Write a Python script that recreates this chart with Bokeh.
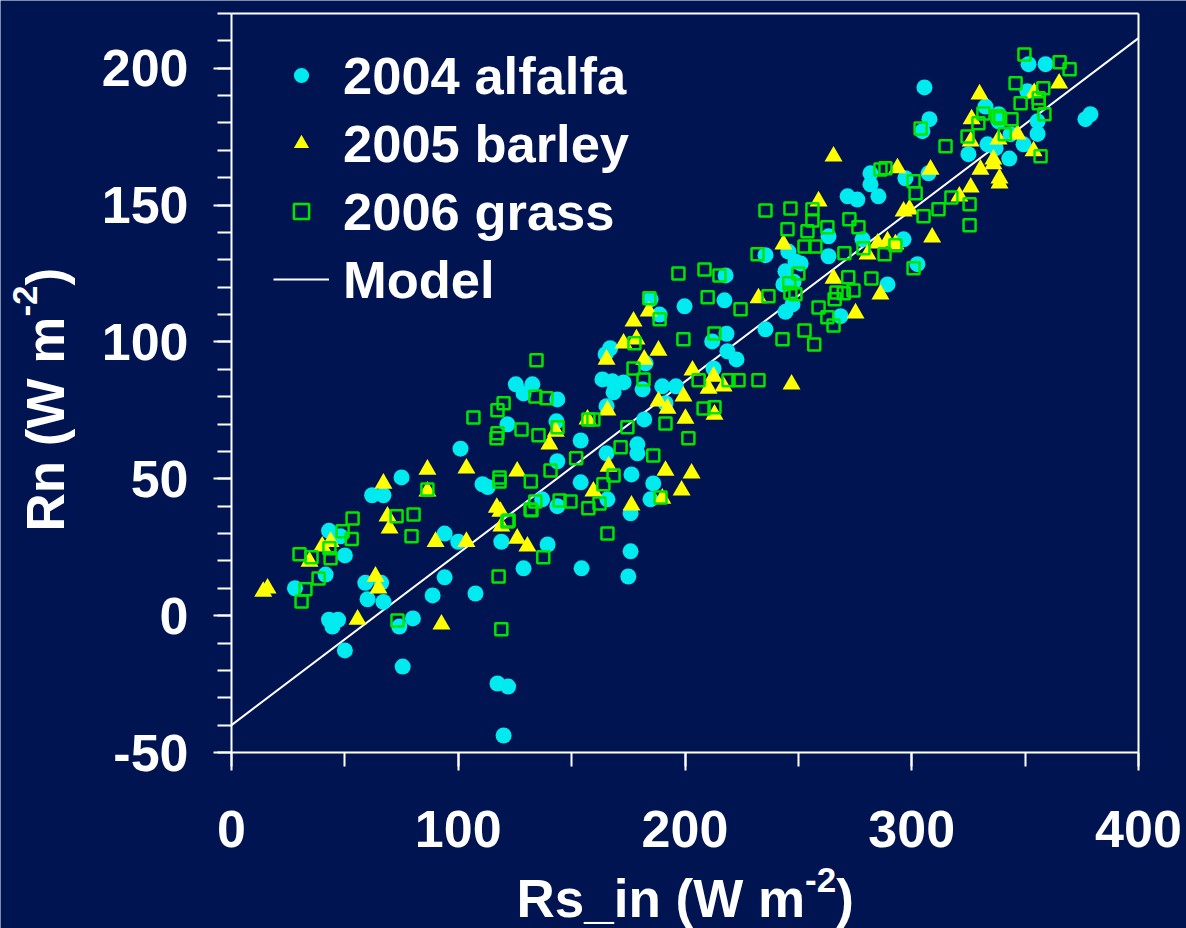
import math
from bokeh.plotting import figure
from bokeh.models import (Range1d, SingleIntervalTicker, FixedTicker, Label, Legend,
                          LegendItem, PrintfTickFormatter, LinearAxis)
from bokeh.embed import file_html
from bokeh.resources import INLINE

# ---------------- data ----------------
alfalfa = [
    (28, 10), (43, 31), (48, 29), (50, 22), (41.5, 15), (59, 12), (66, 12), (60, 6), (67, 5),
    (43, -1.5), (47, -1.5), (44.5, -4), (50, -12.7), (74, -4), (80, -1), (75.5, -18.6),
    (94, 30), (100, 27), (94, 14), (88.7, 7.4), (107.6, 8.1), (128.8, 17.3), (119, 27),
    (117.3, -24.8), (122, -25.9), (120, -43.8), (62, 44), (67, 44), (75, 50.5), (110.7, 48),
    (113, 47), (101, 61), (125.4, 84.5), (132.7, 84.5), (128.8, 81.2), (143.7, 79),
    (121.7, 69.9), (143.3, 71), (154, 64), (143.7, 56.4), (154, 48.7), (137, 42.5),
    (143.7, 40), (165.8, 42.5), (176, 37.4), (165.4, 59.3), (176.4, 51.6), (186, 48.3),
    (184.8, 42.5), (179, 62.6), (179, 59.3), (182, 71.7), (165.4, 76.5), (163.6, 86.3),
    (168, 85.6), (172.9, 85.2), (168.5, 81.6), (181.3, 82.7), (190, 83.8), (196, 83.8),
    (165, 95.5), (167, 97.7), (182.6, 92.2), (191.4, 77.6), (184.8, 115.6), (188.8, 110),
    (199.8, 113), (217.4, 115.2), (218.3, 103), (212, 100.2), (218.7, 96.6), (222.7, 93.6),
    (212.6, 90.3), (235.5, 104.6), (217.9, 124.3), (235.5, 131.7), (245.6, 133),
    (244.3, 125.8), (247.9, 122), (248.7, 129.4), (244.3, 111), (355.5, 176), (333.4, 172.2),
    (337, 170.8), (343.6, 175.9), (349.3, 172.2), (325, 168.6), (343, 167), (281.8, 161.6),
    (281.8, 157.6), (297.2, 159.8), (307.4, 161.6), (271.7, 153.2), (276, 152),
    (285.3, 153.2), (263.3, 138.6), (278.3, 137.5), (296.4, 137.5), (263.3, 131.3),
    (251, 128.7), (302.5, 128.4), (289.3, 121), (243.4, 121), (247.4, 113.7), (268.6, 109.4),
    (305.6, 193), (351.5, 201.5), (359, 201.5), (351, 191.6), (376.6, 181.4), (378.8, 183.2),
    (307.8, 181.4), (304.7, 177), (332.5, 186), (338.3, 183.2), (338.3, 180.6),
    (355.5, 180.6), (139.4, 26), (154.4, 17.3), (176, 23.5), (175, 14.3),
]

barley = [
    (14, 8.8), (15.9, 10), (34.4, 19.8), (40, 25.3), (43.7, 27), (63.5, 14.3), (64.8, 10),
    (55.6, -1.4), (67, 48.3), (68.8, 36.3), (69.7, 31.9), (86.4, 53.4), (86.4, 45.4),
    (90, 27), (103.6, 27), (92.6, -3.2), (117, 39.5), (119, 32.6), (126, 28.2), (130.5, 25.3),
    (103.6, 53.8), (126, 52.7), (118.6, 38), (140.2, 62.6), (143, 67.3), (157, 71.7),
    (165.8, 75), (166.3, 54.5), (159.6, 45.4), (176.4, 40.3), (191.4, 53), (202.9, 52),
    (198.5, 45.8), (190, 42.8), (188.3, 78.3), (192.3, 75.7), (199.3, 80.1), (200.2, 72),
    (165.4, 93.6), (172.9, 99.5), (178.6, 101), (182, 93.6), (188.3, 96.9), (177.3, 107.5),
    (184, 111.2), (203.3, 89.6), (212.6, 87.4), (210.4, 83), (217, 83.8), (213, 73.5),
    (232.4, 116), (247, 84.5), (265.5, 167.8), (258.9, 151.4), (243.4, 135.7), (280.5, 132),
    (285, 136), (289.3, 136.8), (292.8, 135.7), (265.5, 123.2), (286.2, 117.4),
    (275.2, 110.5), (293.7, 163.5), (296.4, 147.7), (299, 148.5), (309, 138.2), (308.3, 163),
    (321, 153.2), (326, 156.5), (330.3, 163), (336, 165), (338.7, 159.8), (338.7, 158),
    (353.7, 169.7), (346.6, 175.9), (338.3, 174), (326, 173.3), (329.9, 190.5),
    (326.4, 181.4), (354, 191), (365, 194.5), (336, 166.7),
]

grass = [
    (53.4, 35.5), (49, 30.8), (53, 28), (30, 22.4), (35.3, 21.3), (43.2, 24.6), (43.7, 21),
    (38.4, 13.6), (32.6, 9.6), (30.9, 5.2), (72.8, 36.3), (80.3, 37), (79.4, 29), (86.4, 46.1),
    (73.2, -1.8), (117.8, 14.3), (119, -5), (121.7, 34.4), (118.2, 49), (132, 49),
    (131.9, 38.8), (106.7, 72.4), (120, 77.6), (117.3, 75), (117.3, 66.6), (116.9, 64.8),
    (127.9, 68), (118.2, 50.5), (134.5, 93.3), (134, 80.1), (138.9, 79.4), (135.4, 65.9),
    (143.8, 68.8), (157.4, 71.7), (159.6, 71.7), (174.6, 68.8), (152, 57.5), (140.7, 53),
    (171.6, 61.5), (186, 58.5), (168.5, 51.2), (164, 48), (191.4, 70.2), (201.5, 64.8),
    (208.2, 75.7), (213, 76.1), (134, 41.7), (132.3, 38.5), (144.7, 42.1), (149.5, 41.7),
    (157.4, 39.2), (162.3, 41), (189.2, 43.2), (122.2, 34.8), (165.8, 30), (177.3, 90.3),
    (181.7, 86.3), (206, 86), (219.2, 86), (223.6, 86), (232.4, 86), (177.7, 99.5),
    (184.3, 116), (188.8, 108.3), (199.3, 101), (213, 103.1), (210, 116.3), (224.5, 111.9),
    (197.1, 125), (208.6, 126.5), (215.2, 124.3), (236.8, 116.7), (232, 132), (243, 101),
    (246, 121.4), (246.5, 118), (248.7, 117.4), (235.5, 148), (246.5, 148.8), (256.2, 148.5),
    (256.2, 144.4), (245.2, 141.2), (254, 140.4), (252.7, 134.9), (257.5, 134.9),
    (262.8, 141.9), (272.5, 144.8), (276.5, 141.9), (270.3, 132.4), (278.7, 134.2),
    (288, 132), (292.8, 135.3), (250, 125), (272, 123.6), (266.8, 118.1), (270, 117.8),
    (274.3, 118.8), (266, 115.6), (258.9, 112.6), (262.8, 109), (265.5, 106), (252.7, 104.2),
    (257, 99.1), (282.2, 123.2), (300.8, 126.9), (286.2, 163), (288.4, 163.5),
    (300.8, 158.7), (301.7, 154.3), (305.2, 145.9), (311.8, 148.5), (317.5, 152.8),
    (325.5, 150.3), (325.5, 142.6), (314.9, 171.5), (324.6, 175.1), (341, 175.9),
    (356.8, 167.8), (349.7, 205), (365.2, 202.2), (369.6, 199.6), (345.8, 194.5),
    (358, 192.7), (348, 187.2), (356, 189), (356, 187.2), (358.5, 183.2), (331.6, 183.5),
    (329.4, 179.9), (337.8, 182.5), (339, 181.7), (344, 181.4), (303.9, 178), (137.5, 21.3),
]

model_rs = [0, 400]
model_rn = [-40, 211]

series_labels = ["2004 alfalfa", "2005 barley", "2006 grass", "Model"]
x_ticks_interval = 100
y_ticks_interval = 50

alfalfa_rs, alfalfa_rn = map(list, zip(*alfalfa))
barley_rs, barley_rn = map(list, zip(*barley))
grass_rs, grass_rn = map(list, zip(*grass))

# ---------------- layout / styling ----------------
W, H = 1186, 928
X_MIN, X_MAX = 0, 400
Y_MIN, Y_MAX = -50, 220
PL, PR, PT, PB = 231, 1138, 13, 752   # plot box in canvas pixels

sxs = (PR - PL) / (X_MAX - X_MIN)
sys_ = (PB - PT) / (Y_MAX - Y_MIN)
x_rng = Range1d(X_MIN - PL / sxs, X_MAX + (W - PR) / sxs)
y_rng = Range1d(Y_MIN - (H - PB) / sys_, Y_MAX + PT / sys_)

BG = "#011452"
CYAN = "#00EBF0"
YELLOW = "#FFFF00"
GREEN = "#00E600"
FONT = "Liberation Sans"
TICK_FS = 52
LEG_FS = 52.5
FS = 53
SUP = 35
BASE_K = 0.373   # measured shift of the alphabetic baseline, per px of font size

# Liberation Sans Bold advance widths (em)
ADV = {"R": 0.722, "s": 0.556, "_": 0.556, "i": 0.278, "n": 0.611, " ": 0.278,
       "(": 0.333, "W": 0.944, "m": 0.889, "-": 0.333, "2": 0.556, ")": 0.333}


def tw(s, size):
    return sum(ADV[c] for c in s) * size


p = figure(width=W, height=H, x_range=x_rng, y_range=y_rng,
           output_backend="svg", toolbar_location=None, min_border=0)
p.background_fill_color = BG
p.border_fill_color = BG
p.outline_line_color = None
p.grid.visible = False

p.xaxis.ticker = SingleIntervalTicker(interval=x_ticks_interval, num_minor_ticks=2)
p.yaxis.ticker = SingleIntervalTicker(interval=y_ticks_interval, num_minor_ticks=5)
p.xaxis.fixed_location = Y_MIN
p.yaxis.fixed_location = X_MIN
p.xaxis.bounds = (X_MIN, X_MAX)
p.yaxis.bounds = (Y_MIN, Y_MAX)


def style_axis(ax):
    ax.axis_line_color = "white"
    ax.axis_line_width = 2
    ax.major_tick_line_color = "white"
    ax.major_tick_line_width = 2
    ax.minor_tick_line_color = "white"
    ax.minor_tick_line_width = 2
    ax.major_tick_in = 0
    ax.major_tick_out = 18
    ax.minor_tick_in = 0
    ax.minor_tick_out = 14
    ax.major_label_text_color = "white"
    ax.major_label_text_font = FONT
    ax.major_label_text_font_style = "bold"
    ax.major_label_text_font_size = f"{TICK_FS}px"


for ax in (p.xaxis[0], p.yaxis[0]):
    ax.formatter = PrintfTickFormatter(format="%d")
    style_axis(ax)
p.xaxis.major_label_standoff = 40
p.yaxis.major_label_standoff = 25

# top and right frame lines
top_ax = LinearAxis(fixed_location=Y_MAX, bounds=(X_MIN, X_MAX), ticker=FixedTicker(ticks=[]))
right_ax = LinearAxis(fixed_location=X_MAX, bounds=(Y_MIN, Y_MAX), ticker=FixedTicker(ticks=[]))
for ax in (top_ax, right_ax):
    style_axis(ax)
p.add_layout(top_ax, "above")
p.add_layout(right_ax, "right")

r_line = p.line(model_rs, model_rn, line_color="white", line_width=2)
r_a = p.scatter(alfalfa_rs, alfalfa_rn, marker="circle", size=16,
                fill_color=CYAN, line_color=None)
r_b = p.scatter(barley_rs, barley_rn, marker="triangle", size=18,
                fill_color=YELLOW, line_color=None)
r_g = p.scatter(grass_rs, grass_rn, marker="square", size=12,
                fill_color=None, line_color=GREEN, line_width=2.5)

common = dict(glyph_height=68, label_height=68, spacing=0, padding=0, margin=0,
              background_fill_alpha=0, border_line_alpha=0,
              label_text_color="white", label_text_font=FONT,
              label_text_font_style="bold", label_text_font_size=f"{LEG_FS}px")
leg1 = Legend(items=[LegendItem(label=series_labels[0], renderers=[r_a]),
                     LegendItem(label=series_labels[1], renderers=[r_b]),
                     LegendItem(label=series_labels[2], renderers=[r_g])],
              location=(282, H - 245), glyph_width=38, label_standoff=23, **common)
leg2 = Legend(items=[LegendItem(label=series_labels[3], renderers=[r_line])],
              location=(273, H - 313), glyph_width=56, label_standoff=14, **common)
p.add_layout(leg1)
p.add_layout(leg2)


def lab(text, x, y, size, angle=0.0):
    p.add_layout(Label(text=text, x=x, y=y, x_units="screen", y_units="screen",
                       text_font=FONT, text_font_style="bold",
                       text_font_size=f"{size}px", text_color="white",
                       text_align="left", text_baseline="alphabetic", angle=angle))


# x-axis title: Rs_in (W m^-2)   (main baseline at y=918, superscript baseline at y=893)
main, sup, close = "Rs_in (W m", "-2", ")"
x0 = 516
lab(main, x0, H - 918 + BASE_K * FS, FS)
lab(sup, x0 + tw(main, FS), H - 893 + BASE_K * SUP, SUP)
lab(close, x0 + tw(main, FS) + tw(sup, SUP), H - 918 + BASE_K * FS, FS)

# y-axis title: Rn (W m^-2)   (main baseline at x=65, superscript baseline at x=38)
main, sup, close = "Rn (W m", "-2", ")"
y0 = H - 531
lab(main, 65 - BASE_K * FS, y0, FS, math.pi / 2)
lab(sup, 38 - BASE_K * SUP, y0 + tw(main, FS), SUP, math.pi / 2)
lab(close, 65 - BASE_K * FS, y0 + tw(main, FS) + tw(sup, SUP), FS, math.pi / 2)

open("out.html", "w").write(file_html(p, INLINE))
